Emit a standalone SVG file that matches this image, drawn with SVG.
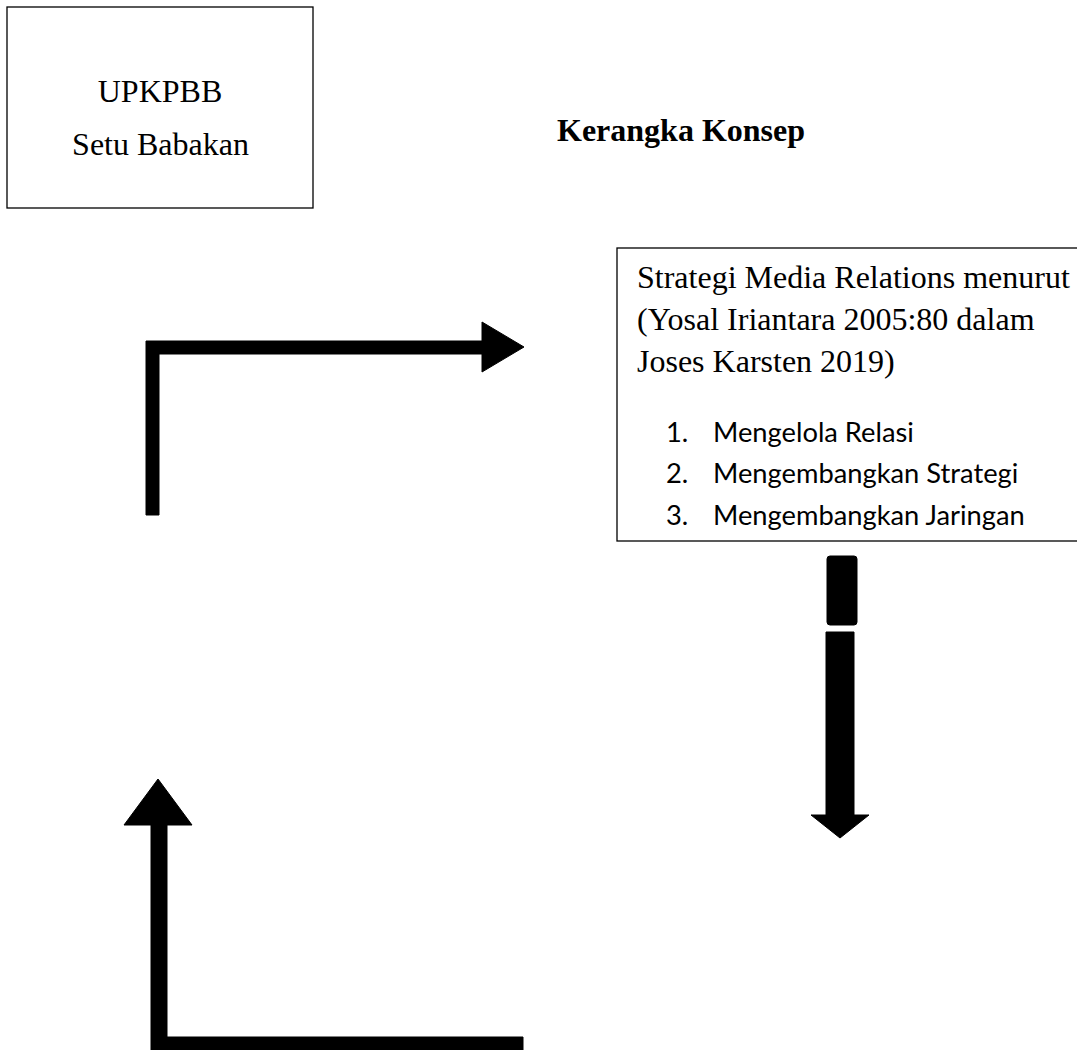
<svg xmlns="http://www.w3.org/2000/svg" width="1077" height="1050" viewBox="0 0 1077 1050">
<style>
.box{fill:#fff;stroke:#000;stroke-width:1.3}
.tnr{font-family:"Liberation Serif","Times New Roman",serif;font-size:32px;fill:#000}
.cal{font-family:Lato,"Liberation Sans",sans-serif;font-size:27.3px;fill:#000}
.arr{fill:#000;stroke:#000;stroke-width:1;stroke-linejoin:round}
</style>
<rect width="1077" height="1050" fill="#fff"/>
<g id="upkpbb">
<rect class="box" x="7" y="7" width="306" height="201"/>
<text class="tnr" x="160" y="101.5" text-anchor="middle">UPKPBB</text>
<text class="tnr" x="160.5" y="154.5" text-anchor="middle">Setu Babakan</text>
</g>
<g id="title">
<text class="tnr" x="557" y="141" font-weight="bold">Kerangka Konsep</text>
</g>
<g id="strategi">
<rect class="box" x="617" y="248" width="470" height="293"/>
<text class="tnr" x="637" y="288">Strategi Media Relations menurut</text>
<text class="tnr" x="637" y="330">(Yosal Iriantara 2005:80 dalam</text>
<text class="tnr" x="637" y="372">Joses Karsten 2019)</text>
<text class="cal" x="666" y="442">1.</text>
<text class="cal" x="713" y="442">Mengelola Relasi</text>
<text class="cal" x="666" y="483">2.</text>
<text class="cal" x="713" y="483">Mengembangkan Strategi</text>
<text class="cal" x="666" y="525">3.</text>
<text class="cal" x="713" y="525">Mengembangkan Jaringan</text>
</g>
<g id="connectors">
<path class="arr" d="M146,515 L146,341 L482,341 L482,322 L524,347 L482,372 L482,354 L159,354 L159,515 Z"/>
<rect class="arr" x="827" y="556" width="30" height="69" rx="3"/>
<path class="arr" d="M826,632 L854,632 L854,815 L869,815 L840,838 L811,815 L826,815 Z"/>
<path class="arr" d="M151,1055 L151,825 L124,825 L158,779 L192,825 L167,825 L167,1037 L523,1037 L523,1055 Z"/>
</g>
</svg>
